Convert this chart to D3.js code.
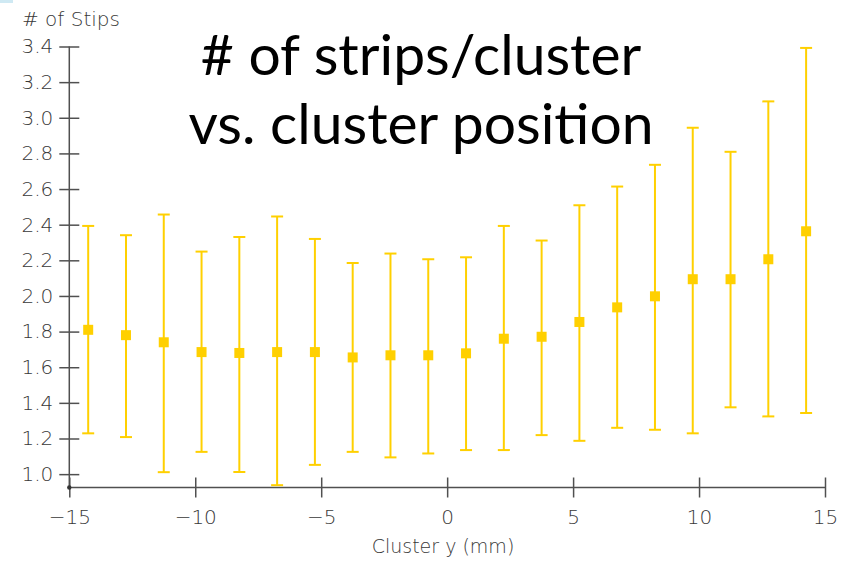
<!DOCTYPE html>
<html>
<head>
<meta charset="utf-8">
<script src="https://cdn.jsdelivr.net/npm/d3@7/dist/d3.min.js"></script>
<style>
  html, body { margin: 0; padding: 0; background: #fff; }
  svg { display: block; }
</style>
</head>
<body>
<svg id="chart" width="850" height="561"></svg>
<script>
// Mean number of strips per cluster in bins of cluster y position
const positions = [-14.25, -12.75, -11.25, -9.75, -8.25, -6.75, -5.25, -3.75, -2.25, -0.75,
                    0.75, 2.25, 3.75, 5.25, 6.75, 8.25, 9.75, 11.25, 12.75, 14.25];
const means = [1.81, 1.78, 1.74, 1.685, 1.68, 1.685, 1.685, 1.655, 1.667, 1.667,
               1.678, 1.76, 1.771, 1.854, 1.936, 1.998, 2.094, 2.094, 2.206, 2.363];
const lower = [1.229, 1.208, 1.011, 1.125, 1.012, 0.938, 1.052, 1.125, 1.094, 1.116,
               1.135, 1.135, 1.219, 1.187, 1.26, 1.249, 1.229, 1.375, 1.324, 1.343];
const upper = [2.393, 2.341, 2.457, 2.249, 2.331, 2.446, 2.320, 2.185, 2.238, 2.206,
               2.217, 2.393, 2.311, 2.509, 2.614, 2.736, 2.944, 2.809, 3.092, 3.392];
const yTicks = [1.0, 1.2, 1.4, 1.6, 1.8, 2.0, 2.2, 2.4, 2.6, 2.8, 3.0, 3.2, 3.4];
const xTicks = [-15, -10, -5, 0, 5, 10, 15];
const titleLines = ["# of strips/cluster", "vs. cluster position"];

const svg = d3.select("#chart");
const axisColor = "#505050";
const textColor = "#383838";
const markColor = "#FFD000";
const labelFont = "DejaVu Sans";

const x = d3.scaleLinear().domain([-15, 15]).range([69.3, 825]);
const y = d3.scaleLinear().domain([0.925, 3.4]).range([487.5, 46.5]);

// slide corner accent
svg.append("rect").attr("x", 0).attr("y", 0).attr("width", 13).attr("height", 3)
  .attr("fill", "#cfe9f3");

// y axis
const yAxis = d3.axisLeft(y).tickValues(yTicks).tickFormat(d3.format(".1f"))
  .tickSize(10).tickPadding(6);
const gy = svg.append("g").attr("transform", `translate(${x(-15)},0)`).call(yAxis);
gy.select(".domain").remove();
gy.append("line").attr("x1", 0).attr("x2", 0).attr("y1", y(3.4)).attr("y2", y(0.925))
  .attr("stroke", axisColor).attr("stroke-width", 1.5);
gy.selectAll(".tick line").attr("x1", 10).attr("x2", -10)
  .attr("stroke", axisColor).attr("stroke-width", 1.5);
gy.selectAll(".tick text").attr("x", -16).attr("fill", textColor)
  .style("font-family", labelFont).style("font-weight", 200).style("font-size", "20px");

// x axis
const xAxis = d3.axisBottom(x).tickValues(xTicks).tickSize(10).tickPadding(12);
const gx = svg.append("g").attr("transform", `translate(0,${y(0.925)})`).call(xAxis);
gx.select(".domain").remove();
gx.append("line").attr("x1", x(-15)).attr("x2", x(15)).attr("y1", 0).attr("y2", 0)
  .attr("stroke", axisColor).attr("stroke-width", 1.5);
gx.selectAll(".tick line").attr("y1", -10).attr("y2", 10)
  .attr("stroke", axisColor).attr("stroke-width", 1.5);
gx.selectAll(".tick text").attr("fill", textColor)
  .style("font-family", labelFont).style("font-weight", 200).style("font-size", "20px");

svg.append("circle").attr("cx", x(-15)).attr("cy", y(0.925)).attr("r", 2.2).attr("fill", "#333");

// axis titles
svg.append("text").attr("x", 22).attr("y", 26).text("# of Stips")
  .attr("fill", textColor).style("font-family", labelFont).style("font-weight", 200)
  .style("font-size", "20px");
svg.append("text").attr("x", 443).attr("y", 553).attr("text-anchor", "middle")
  .text("Cluster y (mm)")
  .attr("fill", textColor).style("font-family", labelFont).style("font-weight", 200)
  .style("font-size", "19px");

// error bars
const data = positions.map((p, i) => ({ p, m: means[i], lo: lower[i], hi: upper[i] }));
const bars = svg.append("g");
bars.selectAll("line.stem").data(data).join("line").attr("class", "stem")
  .attr("x1", d => x(d.p)).attr("x2", d => x(d.p))
  .attr("y1", d => y(d.lo)).attr("y2", d => y(d.hi))
  .attr("stroke", markColor).attr("stroke-width", 2);
["lo", "hi"].forEach(k => {
  bars.selectAll("line.cap-" + k).data(data).join("line").attr("class", "cap-" + k)
    .attr("x1", d => x(d.p) - 6).attr("x2", d => x(d.p) + 6)
    .attr("y1", d => y(d[k])).attr("y2", d => y(d[k]))
    .attr("stroke", markColor).attr("stroke-width", 2);
});
bars.selectAll("rect").data(data).join("rect")
  .attr("x", d => x(d.p) - 5).attr("y", d => y(d.m) - 5)
  .attr("width", 10).attr("height", 10).attr("fill", markColor);

// title
const title = svg.append("text").attr("text-anchor", "middle")
  .style("font-family", "Lato").style("font-size", "57px").attr("fill", "#000");
titleLines.forEach((t, i) => {
  title.append("tspan").attr("x", 421).attr("y", 75 + i * 69).text(t);
});
</script>
</body>
</html>
